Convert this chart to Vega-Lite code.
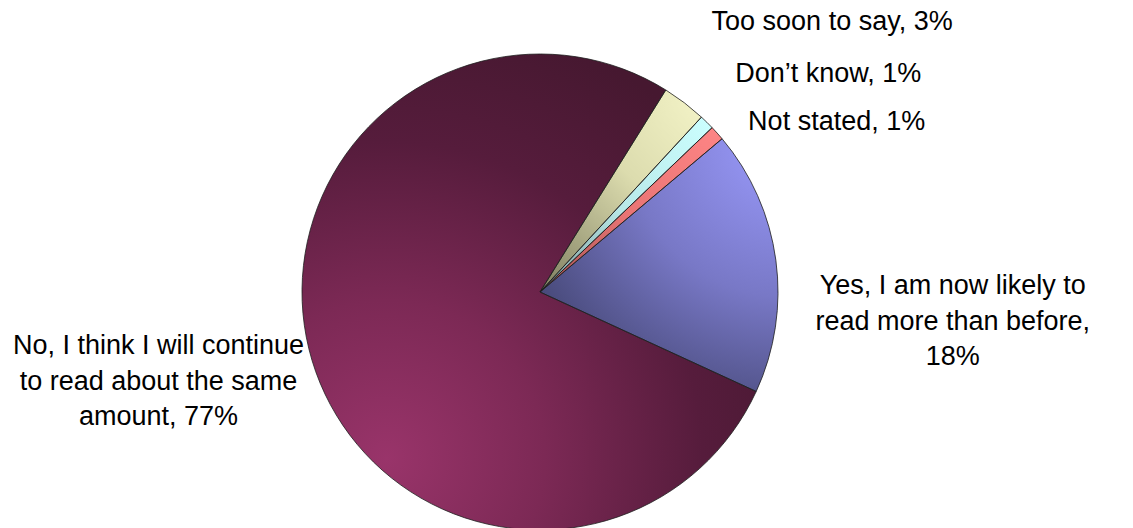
{
  "$schema": "https://vega.github.io/schema/vega-lite/v6.json",
  "width": 1080,
  "height": 476,
  "autosize": "none",
  "padding": {"left": 0, "top": 54, "right": 53, "bottom": 0},
  "background": "white",
  "config": {"view": {"stroke": null}},
  "data": {
    "values": [
      {"rank": 1, "category": "Too soon to say", "value": 3, "label": "Too soon to say, 3%"},
      {"rank": 2, "category": "Don’t know", "value": 1, "label": "Don’t know, 1%"},
      {"rank": 3, "category": "Not stated", "value": 1, "label": "Not stated, 1%"},
      {"rank": 4, "category": "Yes, I am now likely to read more than before", "value": 18, "label": "Yes, I am now likely to\nread more than before,\n18%"},
      {"rank": 5, "category": "No, I think I will continue to read about the same amount", "value": 77, "label": "No, I think I will continue\nto read about the same\namount, 77%"}
    ]
  },
  "encoding": {
    "theta": {"field": "value", "type": "quantitative", "stack": true, "scale": {"domain": [0, 100], "range": [0.557, 6.840]}},
    "order": {"field": "rank", "type": "quantitative", "sort": "ascending"}
  },
  "layer": [
    {
      "mark": {"type": "arc", "stroke": null, "fill": {"gradient": "radial", "x1": 0.2, "y1": 0.85, "r1": 0, "x2": 0.2, "y2": 0.85, "r2": 0.95,
        "stops": [{"offset": 0, "color": "#99346a"}, {"offset": 0.35, "color": "#7c2955"}, {"offset": 0.7, "color": "#561c3c"}, {"offset": 1, "color": "#461830"}]}},
      "encoding": {"opacity": {"condition": {"test": "datum.category === 'No, I think I will continue to read about the same amount'", "value": 1}, "value": 0}}
    },
    {
      "mark": {"type": "arc", "stroke": null, "fill": {"gradient": "radial", "x1": 1, "y1": 0, "r1": 0, "x2": 1, "y2": 0, "r2": 1.25,
        "stops": [{"offset": 0, "color": "#9c9cff"}, {"offset": 0.5, "color": "#7878c6"}, {"offset": 1, "color": "#3e406a"}]}},
      "encoding": {"opacity": {"condition": {"test": "datum.category === 'Yes, I am now likely to read more than before'", "value": 1}, "value": 0}}
    },
    {
      "mark": {"type": "arc", "stroke": null, "fill": {"gradient": "radial", "x1": 1, "y1": 0, "r1": 0, "x2": 1, "y2": 0, "r2": 1.25,
        "stops": [{"offset": 0, "color": "#f8f8cc"}, {"offset": 0.5, "color": "#dcdcae"}, {"offset": 1, "color": "#8a8a6a"}]}},
      "encoding": {"opacity": {"condition": {"test": "datum.category === 'Too soon to say'", "value": 1}, "value": 0}}
    },
    {
      "mark": {"type": "arc", "stroke": null, "fill": {"gradient": "radial", "x1": 1, "y1": 0, "r1": 0, "x2": 1, "y2": 0, "r2": 1.25,
        "stops": [{"offset": 0, "color": "#ccffff"}, {"offset": 0.6, "color": "#b8e8e8"}, {"offset": 1, "color": "#88aaaa"}]}},
      "encoding": {"opacity": {"condition": {"test": "datum.category === 'Don’t know'", "value": 1}, "value": 0}}
    },
    {
      "mark": {"type": "arc", "stroke": null, "fill": {"gradient": "radial", "x1": 1, "y1": 0, "r1": 0, "x2": 1, "y2": 0, "r2": 1.25,
        "stops": [{"offset": 0, "color": "#ff8686"}, {"offset": 0.6, "color": "#e87474"}, {"offset": 1, "color": "#b05858"}]}},
      "encoding": {"opacity": {"condition": {"test": "datum.category === 'Not stated'", "value": 1}, "value": 0}}
    },
    {
      "mark": {"type": "arc", "fillOpacity": 0, "stroke": "#1e1e1e", "strokeWidth": 0.8}
    },
    {
      "mark": {"type": "text", "radius": 250, "dx": 165, "dy": 27.5, "align": "center", "baseline": "middle", "font": "Liberation Sans", "fontSize": 27, "lineBreak": "\n", "lineHeight": 35.5, "color": "black"},
      "encoding": {"text": {"field": "label"}, "opacity": {"condition": {"test": "datum.category === 'Yes, I am now likely to read more than before'", "value": 1}, "value": 0}}
    },
    {
      "mark": {"type": "text", "radius": 250, "dx": -142, "dy": -17.5, "align": "center", "baseline": "middle", "font": "Liberation Sans", "fontSize": 27, "lineBreak": "\n", "lineHeight": 35.5, "color": "black"},
      "encoding": {"text": {"field": "label"}, "opacity": {"condition": {"test": "datum.category === 'No, I think I will continue to read about the same amount'", "value": 1}, "value": 0}}
    },
    {
      "mark": {"type": "text", "radius": 250, "dx": 20, "dy": -63, "align": "left", "baseline": "alphabetic", "font": "Liberation Sans", "fontSize": 27, "color": "black"},
      "encoding": {"text": {"field": "label"}, "opacity": {"condition": {"test": "datum.category === 'Too soon to say'", "value": 1}, "value": 0}}
    },
    {
      "mark": {"type": "text", "radius": 250, "dx": 20, "dy": -32, "align": "left", "baseline": "alphabetic", "font": "Liberation Sans", "fontSize": 27, "color": "black"},
      "encoding": {"text": {"field": "label"}, "opacity": {"condition": {"test": "datum.category === 'Don’t know'", "value": 1}, "value": 0}}
    },
    {
      "mark": {"type": "text", "radius": 250, "dx": 22, "dy": 5, "align": "left", "baseline": "alphabetic", "font": "Liberation Sans", "fontSize": 27, "color": "black"},
      "encoding": {"text": {"field": "label"}, "opacity": {"condition": {"test": "datum.category === 'Not stated'", "value": 1}, "value": 0}}
    }
  ]
}
